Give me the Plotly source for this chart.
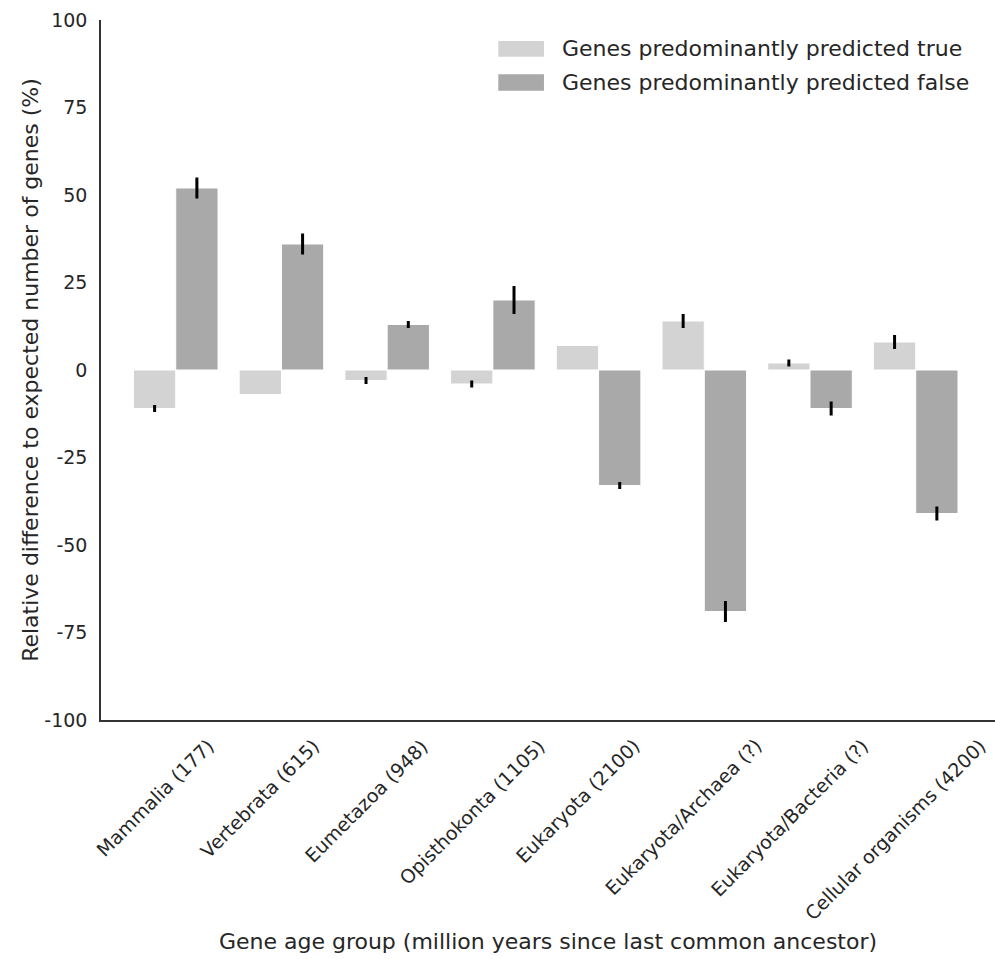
import plotly.graph_objects as go

# Gene age groups (million years since last common ancestor)
categories = [
    "Mammalia (177)",
    "Vertebrata (615)",
    "Eumetazoa (948)",
    "Opisthokonta (1105)",
    "Eukaryota (2100)",
    "Eukaryota/Archaea (?)",
    "Eukaryota/Bacteria (?)",
    "Cellular organisms (4200)",
]

# Relative difference to expected number of genes (%)
true_values = [-11, -7, -3, -4, 7, 14, 2, 8]
true_errors = [1, 0, 1, 1, 0, 2, 1, 2]
false_values = [52, 36, 13, 20, -33, -69, -11, -41]
false_errors = [3, 3, 1, 4, 1, 3, 2, 2]

series_names = [
    "Genes predominantly predicted true",
    "Genes predominantly predicted false",
]
series_colors = ["#d3d3d3", "#a9a9a9"]

y_ticks = [100, 75, 50, 25, 0, -25, -50, -75, -100]

FONT = "DejaVu Sans"
TEXT = "#262626"

x_idx = list(range(len(categories)))

fig = go.Figure()
for name, vals, errs, color in [
    (series_names[0], true_values, true_errors, series_colors[0]),
    (series_names[1], false_values, false_errors, series_colors[1]),
]:
    fig.add_trace(go.Bar(
        x=x_idx,
        y=vals,
        name=name,
        marker=dict(color=color, line=dict(color="white", width=1)),
        error_y=dict(type="data", array=errs, visible=True,
                     color="black", thickness=3, width=0),
        showlegend=False,
    ))

# Rotated category labels, centred under the first bar of each group
for i, label in enumerate(categories):
    fig.add_annotation(
        x=i - 0.2, xref="x", y=0, yref="paper",
        text=label, textangle=-45, showarrow=False,
        xanchor="center", yanchor="top", yshift=-12,
        font=dict(family=FONT, size=19, color=TEXT),
    )

# Legend with wide colour patches
legend_rows = [(0.9700, 0.9476, 0.9586), (0.9224, 0.8990, 0.9107)]
for (y1, y0, yc), name, color in zip(legend_rows, series_names, series_colors):
    fig.add_shape(type="rect", xref="paper", yref="paper",
                  x0=0.4444, x1=0.4955, y0=y0, y1=y1,
                  fillcolor=color, line=dict(width=0))
    fig.add_annotation(x=0.5135, y=yc, xref="paper", yref="paper",
                       text=name, showarrow=False,
                       xanchor="left", yanchor="middle",
                       font=dict(family=FONT, size=22, color=TEXT))

fig.update_layout(
    width=995,
    height=959,
    margin=dict(l=101, r=0, t=20, b=239),
    paper_bgcolor="white",
    plot_bgcolor="white",
    barmode="group",
    bargap=0.2,
    bargroupgap=0,
    font=dict(family=FONT, color=TEXT),
    xaxis=dict(
        range=[-0.707, 7.75],
        showticklabels=False,
        ticks="",
        showgrid=False,
        zeroline=False,
        showline=True,
        linecolor="#333333",
        linewidth=1.5,
        title=dict(text="Gene age group (million years since last common ancestor)",
                   font=dict(family=FONT, size=22, color=TEXT), standoff=213),
        automargin=False,
    ),
    yaxis=dict(
        range=[-100, 100],
        tickvals=y_ticks,
        ticktext=[str(v) for v in y_ticks],
        ticks="",
        ticklabelstandoff=8,
        tickfont=dict(family=FONT, size=19, color=TEXT),
        showgrid=False,
        zeroline=False,
        showline=True,
        linecolor="#333333",
        linewidth=1.5,
        title=dict(text="Relative difference to expected number of genes (%)",
                   font=dict(family=FONT, size=22, color=TEXT), standoff=0),
        automargin=False,
    ),
)

fig.write_html("out.html")
